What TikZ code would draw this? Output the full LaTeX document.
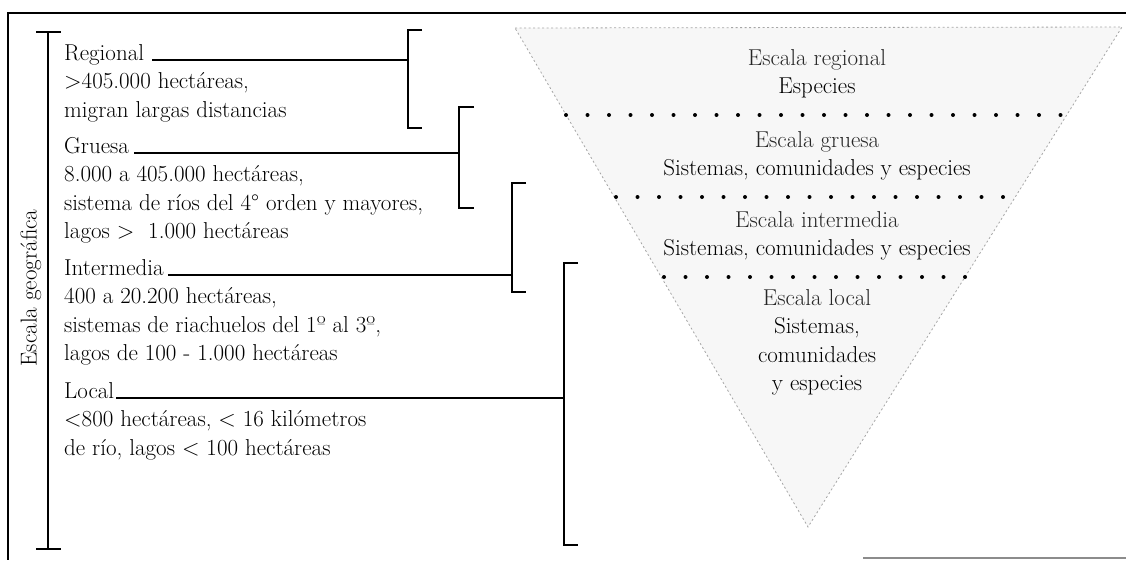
\documentclass[tikz,border=0pt]{standalone}
\usepackage{fontspec}
\usetikzlibrary{positioning}

\begin{document}
\begin{tikzpicture}[
  x=1pt, y=-1pt,
  font=\fontsize{23}{28.5}\selectfont,
  frame/.style={line width=1.4pt},
  bracket/.style={line width=1.2pt},
  lead/.style={line width=1.1pt},
  lbl/.style={inner sep=0pt, anchor=base west},
  desc/.style={inner sep=0pt, anchor=north west, align=left},
  layer/.style={inner sep=0pt, anchor=north, align=center},
  sep/.style={line width=4pt, line cap=round, dash pattern=on 0pt off 21.5pt},
  funnel/.style={draw=black!35, fill=black!3, line width=0.8pt, dash pattern=on 2pt off 2.5pt}
]
\useasboundingbox (0,0) rectangle (1126,560);

% frame
\draw[frame] (7,13) -- (1126,13);
\draw[frame] (8,13) -- (8,560);
\draw[frame, black!45] (863,558) -- (1126,558);

% funnel on the right
\coordinate (ftl) at (515,28);
\coordinate (ftr) at (1122,27);
\coordinate (fap) at (808,527);
\draw[funnel] (ftl) -- (ftr) -- (fap) -- cycle;

\coordinate (r1l) at (566,115); \coordinate (r1r) at (1066,115);
\coordinate (r2l) at (616,197); \coordinate (r2r) at (1015,197);
\coordinate (r3l) at (664,277); \coordinate (r3r) at (966,277);
\draw[sep] (r1l) -- (r1r);
\draw[sep] (r2l) -- (r2r);
\draw[sep] (r3l) -- (r3r);

\node[layer] (regscale) at (817,49) {\textcolor{black!85}{Escala regional}\\Especies};
\node[layer] (grscale) at (817,131) {\textcolor{black!85}{Escala gruesa}\\Sistemas, comunidades y especies};
\node[layer] (intscale) at (817,211) {\textcolor{black!85}{Escala intermedia}\\Sistemas, comunidades y especies};
\node[layer] (locscale) at (817,289) {\textcolor{black!85}{Escala local}\\Sistemas,\\comunidades\\y especies};

% geographic axis
\node[rotate=90] (axislbl) at (31,288) {Escala geográfica};
\coordinate (axtop) at (48,32);
\coordinate (axbot) at (48,549);
\draw[bracket] ([xshift=-12pt]axtop) -- ([xshift=13pt]axtop);
\draw[bracket] (axtop) -- (axbot);
\draw[bracket] ([xshift=-12pt]axbot) -- ([xshift=13pt]axbot);

% left column
\node[lbl] (regional) at (64,60) {Regional};
\node[desc] (regionalinfo) at (64,72.5) {>405.000 hectáreas,\\migran largas distancias};
\node[lbl] (gruesa) at (64,153) {Gruesa};
\node[desc] (gruesainfo) at (64,165.5) {8.000 a 405.000 hectáreas,\\sistema de ríos del 4° orden y mayores,\\lagos >\ \ 1.000 hectáreas};
\node[lbl] (intermedia) at (64,275) {Intermedia};
\node[desc] (intermediainfo) at (64,287.5) {400 a 20.200 hectáreas,\\sistemas de riachuelos del 1º al 3º,\\lagos de 100 - 1.000 hectáreas};
\node[lbl] (local) at (64,398) {Local};
\node[desc] (localinfo) at (64,410.5) {<800 hectáreas, < 16 kilómetros\\de río, lagos < 100 hectáreas};

% brackets
\coordinate (b1t) at (408,30);  \coordinate (b1b) at (408,128);
\coordinate (b2t) at (459,107); \coordinate (b2b) at (459,208);
\coordinate (b3t) at (512,183); \coordinate (b3b) at (512,292);
\coordinate (b4t) at (564,263); \coordinate (b4b) at (564,545);
\draw[bracket] ([xshift=14pt]b1t) -- (b1t) -- (b1b) -- ([xshift=14pt]b1b);
\draw[bracket] ([xshift=15pt]b2t) -- (b2t) -- (b2b) -- ([xshift=15pt]b2b);
\draw[bracket] ([xshift=14pt]b3t) -- (b3t) -- (b3b) -- ([xshift=14pt]b3b);
\draw[bracket] ([xshift=14pt]b4t) -- (b4t) -- (b4b) -- ([xshift=14pt]b4b);

\draw[lead] ([xshift=8pt]regional.base east) -- (regional.base east -| b1t);
\draw[lead] ([xshift=5pt]gruesa.base east) -- (gruesa.base east -| b2t);
\draw[lead] ([xshift=4pt]intermedia.base east) -- (intermedia.base east -| b3t);
\draw[lead] ([xshift=2pt]local.base east) -- (local.base east -| b4t);
\end{tikzpicture}
\end{document}
